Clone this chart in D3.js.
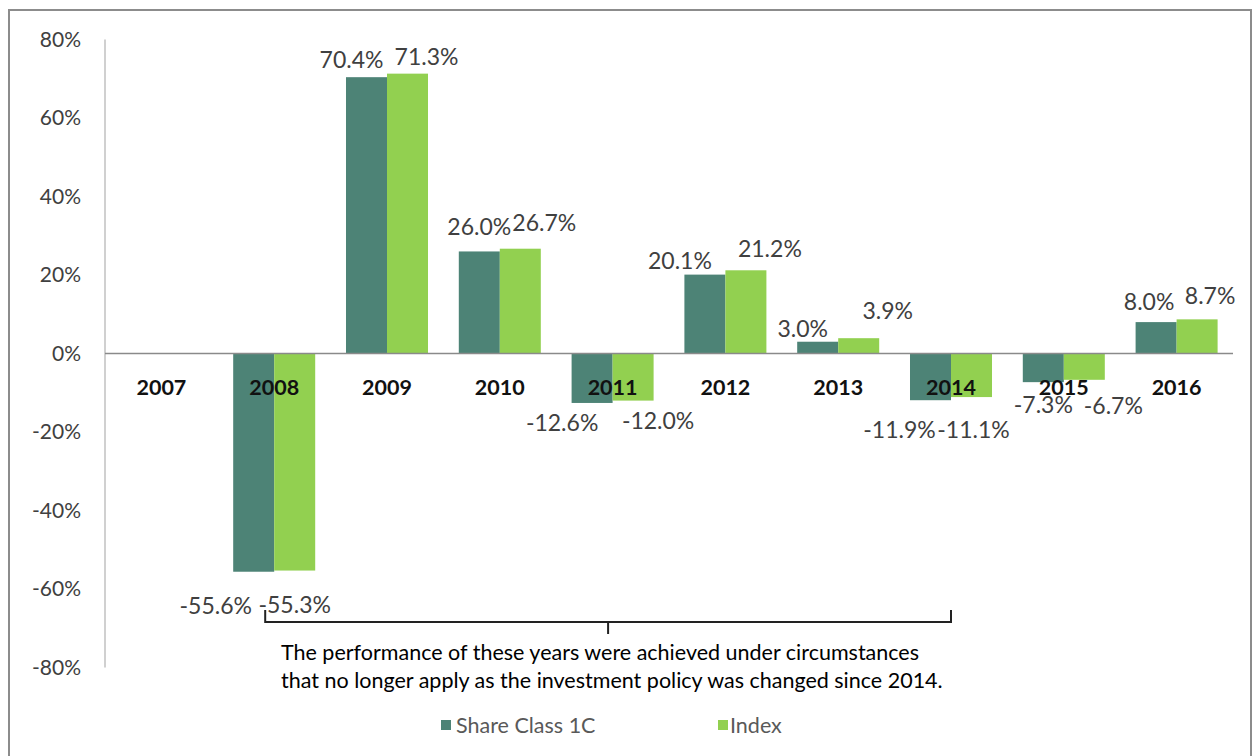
<!DOCTYPE html>
<html>
<head>
<meta charset="utf-8">
<script src="https://cdn.jsdelivr.net/npm/d3@7"></script>
<style>
  html, body { margin: 0; padding: 0; background: #fff; }
  svg { display: block; }
  text { font-family: Lato, "Open Sans", sans-serif; }
</style>
</head>
<body>
<svg id="chart" width="1253" height="756"></svg>
<script>
// ---- data ----
const years = ["2007","2008","2009","2010","2011","2012","2013","2014","2015","2016"];
const shareClass = [null, -55.6, 70.4, 26.0, -12.6, 20.1, 3.0, -11.9, -7.3, 8.0];
const indexVals  = [null, -55.3, 71.3, 26.7, -12.0, 21.2, 3.9, -11.1, -6.7, 8.7];
const yTicks = [-80, -60, -40, -20, 0, 20, 40, 60, 80];
const seriesNames = ["Share Class 1C", "Index"];
const noteLines = [
  "The performance of these years were achieved under circumstances",
  "that no longer apply as the investment policy was changed since 2014."
];
const bracketYears = ["2008", "2014"];

// ---- label placement (offsets from each bar's centre / end, px) ----
const shareLabelNudge = [null, [-38, 34], [-15, 17], [0, 25], [-30, 20], [-25, 14], [-15, 13], [-31, 30], [0, 23], [-7, 20]];
const indexLabelNudge = [null, [0, 34], [19, 17], [24, 26], [25, 20], [24, 21], [29, 27], [2, 33], [29, 26], [13, 23]];

// ---- style ----
const colors = ["#4d8376", "#92d050"];
const svg = d3.select("#chart");

// border
svg.append("rect").attr("x", 9).attr("y", 10).attr("width", 1242).attr("height", 760)
  .attr("fill", "none").attr("stroke", "#8c8c8c").attr("stroke-width", 2);

const plot = { left: 105, right: 1233, top: 39.5, bottom: 667.5 };

const x = d3.scaleBand().domain(years).range([plot.left, plot.right])
  .paddingInner(0.273).paddingOuter(0.1365);
const xs = d3.scaleBand().domain([0, 1]).range([0, x.bandwidth()]);
const y = d3.scaleLinear().domain([-80, 80]).range([plot.bottom, plot.top]);
const fmt = v => (v < 0 ? "-" : "") + d3.format(".1f")(Math.abs(v)) + "%";

// y axis
const yAxis = d3.axisLeft(y).tickValues(yTicks).tickSize(0).tickPadding(24)
  .tickFormat(d => (d < 0 ? "-" : "") + Math.abs(d) + "%");
const yg = svg.append("g").attr("transform", `translate(${plot.left},0)`).call(yAxis);
yg.select(".domain").remove();
yg.selectAll("text").attr("font-size", 21).attr("fill", "#404040")
  .attr("font-family", "Lato, sans-serif");
svg.append("line").attr("x1", plot.left).attr("x2", plot.left)
  .attr("y1", plot.top).attr("y2", plot.bottom)
  .attr("stroke", "#d0d0d0").attr("stroke-width", 2);

// bars
const nudges = [shareLabelNudge, indexLabelNudge];
const rows = years.map((yr, i) => ({ yr, vals: [shareClass[i], indexVals[i]].map((v, k) => ({ v, k, n: nudges[k][i] })) }));
const groups = svg.append("g").selectAll("g").data(rows).join("g")
  .attr("transform", d => `translate(${x(d.yr)},0)`);
groups.selectAll("rect").data(d => d.vals.filter(e => e.v !== null))
  .join("rect")
  .attr("x", e => xs(e.k))
  .attr("width", xs.bandwidth())
  .attr("y", e => y(Math.max(0, e.v)))
  .attr("height", e => Math.abs(y(e.v) - y(0)))
  .attr("fill", e => colors[e.k]);

// zero line
svg.append("line").attr("x1", plot.left).attr("x2", plot.right)
  .attr("y1", y(0)).attr("y2", y(0))
  .attr("stroke", "#8a8a8a").attr("stroke-width", 1.5);

// data labels
groups.selectAll("text.lbl").data(d => d.vals.filter(e => e.v !== null))
  .join("text").attr("class", "lbl")
  .attr("x", e => xs(e.k) + xs.bandwidth() / 2 + e.n[0])
  .attr("y", e => e.v >= 0 ? y(e.v) - e.n[1] : y(e.v) + e.n[1])
  .attr("dy", "0.35em")
  .attr("text-anchor", "middle")
  .attr("font-size", 23)
  .attr("fill", "#404040")
  .text(e => fmt(e.v));

// category labels
svg.append("g").selectAll("text").data(years).join("text")
  .attr("x", d => x(d) + x.bandwidth() / 2)
  .attr("y", y(0) + 34)
  .attr("dy", "0.35em")
  .attr("text-anchor", "middle")
  .attr("font-size", 21.5)
  .attr("font-weight", "bold")
  .attr("fill", "#111")
  .text(d => d);

// bracket
const bx1 = x(bracketYears[0]) + x.bandwidth() / 2 - 9;
const bx2 = x(bracketYears[1]) + x.bandwidth() / 2;
const bxm = (bx1 + bx2) / 2;
const by = 622;
svg.append("path")
  .attr("d", `M${bx1},${by - 12} L${bx1},${by} L${bx2},${by} L${bx2},${by - 12} M${bxm},${by} L${bxm},${by + 12}`)
  .attr("fill", "none").attr("stroke", "#222").attr("stroke-width", 2);

// note text
svg.append("g").selectAll("text").data(noteLines).join("text")
  .attr("x", 281)
  .attr("y", (d, i) => 652 + i * 28)
  .attr("dy", "0.35em")
  .attr("font-size", 21.5)
  .attr("fill", "#000")
  .text(d => d);

// legend
const legendX = [441, 718];
const lg = svg.append("g").selectAll("g").data(seriesNames).join("g")
  .attr("transform", (d, i) => `translate(${legendX[i]},725)`);
lg.append("rect").attr("x", 0).attr("y", -5).attr("width", 10).attr("height", 10)
  .attr("fill", (d, i) => colors[i]);
lg.append("text").attr("x", (d, i) => i === 0 ? 15 : 12).attr("y", 0).attr("dy", "0.35em")
  .attr("font-size", 21.5).attr("fill", "#595959").text(d => d);
</script>
</body>
</html>
